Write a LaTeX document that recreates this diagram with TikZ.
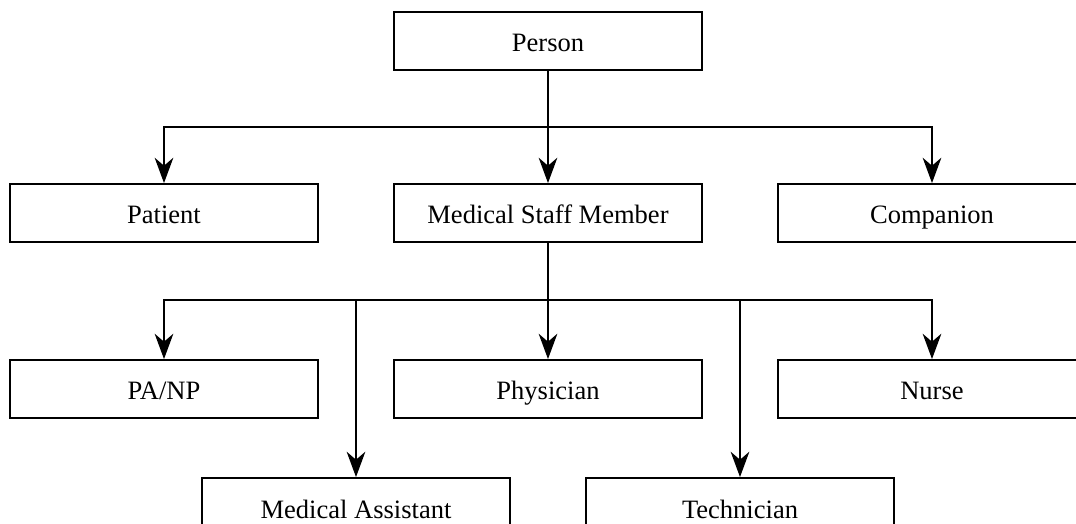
\documentclass[tikz,border=0pt]{standalone}
\usepackage{fontspec}
\setmainfont{Liberation Serif}
\usetikzlibrary{arrows.meta}
\tikzset{
  box/.style={draw,line width=1.4pt,minimum width=231pt,minimum height=43.5pt,inner sep=0pt,
    text height=16.5pt,text depth=0pt,font=\fontsize{19.9}{23}\selectfont},
  link/.style={line width=1.1pt},
  tip/.style={-{Stealth[length=19pt,width=14pt,inset=6pt]}}
}
\begin{document}
\begin{tikzpicture}[x=0.75pt,y=-0.75pt]
                \clip (0,0) rectangle (1076,524);
                %% boxes
                \node[box] (person) at (548,41) {Person};
                \node[box] (patient) at (164,213) {Patient};
                \node[box] (staff) at (548,213) {Medical Staff Member};
                \node[box] (companion) at (932,213) {Companion};
                \node[box] (panp) at (164,389) {PA/NP};
                \node[box] (physician) at (548,389) {Physician};
                \node[box] (nurse) at (932,389) {Nurse};
                \node[box] (assistant) at (356,507) {Medical Assistant};
                \node[box] (technician) at (740,507) {Technician};
                %% junctions
                \coordinate (j1) at (548,127);
                \coordinate (j2) at (548,300);
                %% person
                \draw[link] (person.south) -- (j1);
                \draw[link,tip] (j1) -| (patient.north);
                \draw[link,tip] (j1) -- (staff.north);
                \draw[link,tip] (j1) -| (companion.north);
                %% staff
                \draw[link] (staff.south) -- (j2);
                \draw[link,tip] (j2) -| (panp.north);
                \draw[link,tip] (j2) -| (assistant.north);
                \draw[link,tip] (j2) -- (physician.north);
                \draw[link,tip] (j2) -| (technician.north);
                \draw[link,tip] (j2) -| (nurse.north);
            \end{tikzpicture}
\end{document}
